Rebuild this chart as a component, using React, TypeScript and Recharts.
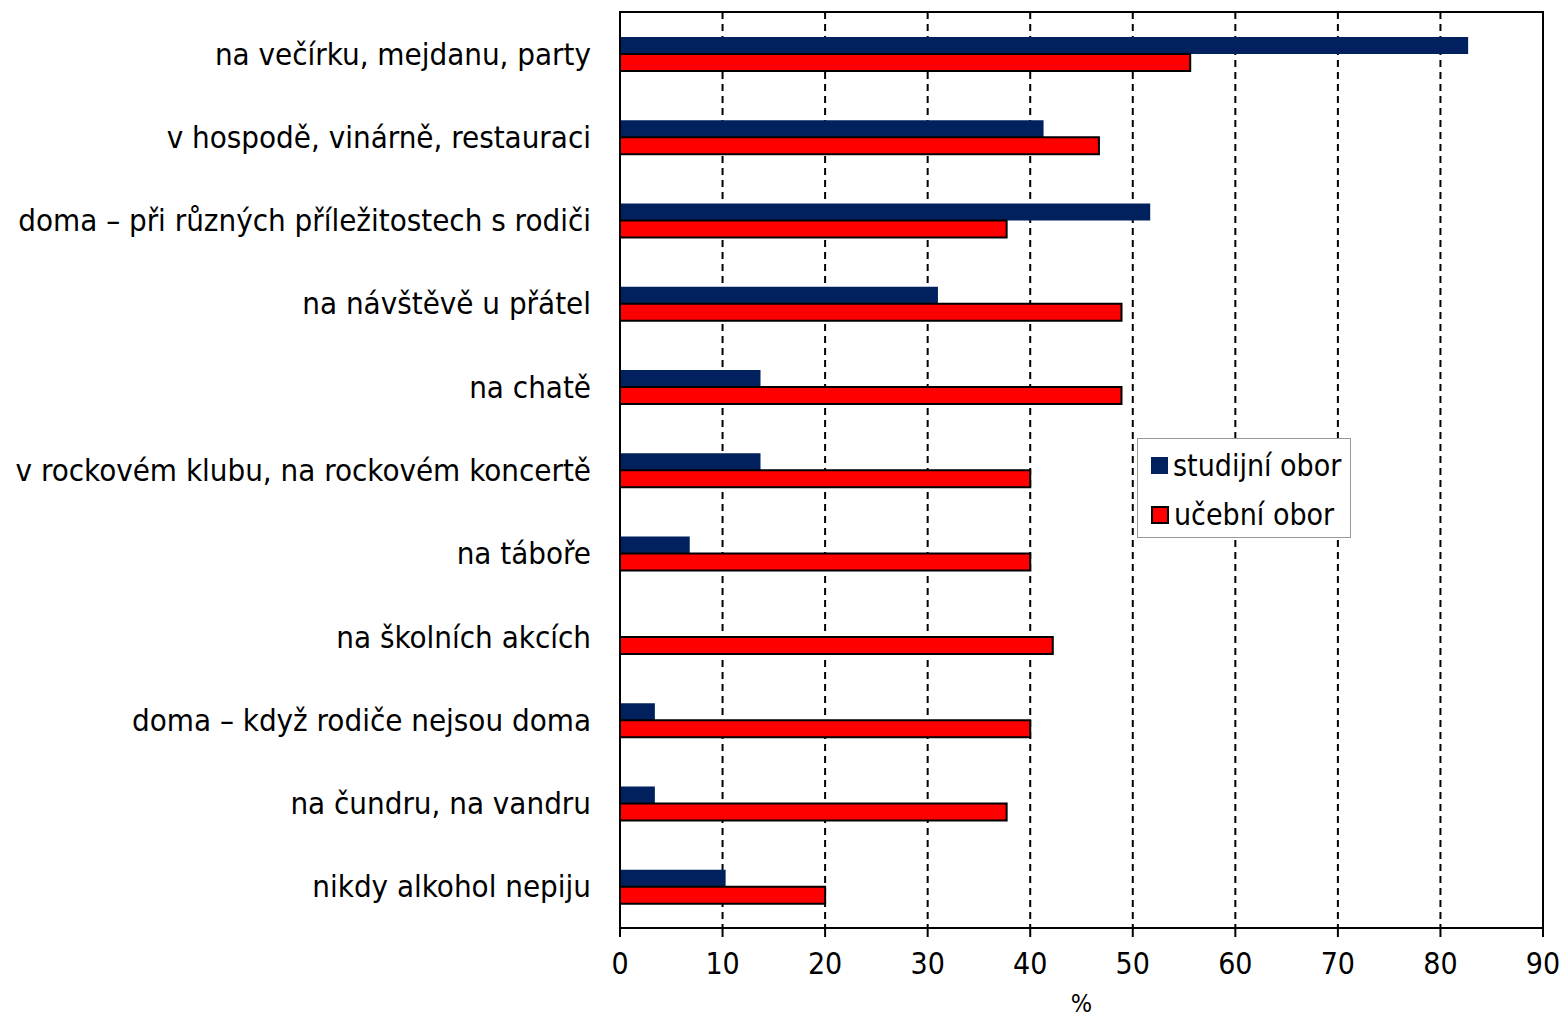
import { BarChart, Bar, XAxis, YAxis, CartesianGrid, ReferenceArea } from 'recharts';

const categories = [
  'na večírku, mejdanu, party',
  'v hospodě, vinárně, restauraci',
  'doma – při různých příležitostech s rodiči',
  'na návštěvě u přátel',
  'na chatě',
  'v rockovém klubu, na rockovém koncertě',
  'na táboře',
  'na školních akcích',
  'doma – když rodiče nejsou doma',
  'na čundru, na vandru',
  'nikdy alkohol nepiju',
];
const studijni = [82.7, 41.3, 51.7, 31.0, 13.7, 13.7, 6.8, 0, 3.4, 3.4, 10.3];
const ucebni = [55.6, 46.7, 37.7, 48.9, 48.9, 40.0, 40.0, 42.2, 40.0, 37.7, 20.0];
const xTicks = [0, 10, 20, 30, 40, 50, 60, 70, 80, 90];

const data = categories.map((name, i) => ({ name, studijni: studijni[i], ucebni: ucebni[i] }));

const FONT = '"DejaVu Sans Condensed", "DejaVu Sans", sans-serif';
const NAVY = '#00215e';
const RED = '#ff0000';

// legend drawn as a plain box on top of the chart, so it takes no room from the plot
function LegendBox() {
  return (
    <div
      style={{
        position: 'absolute',
        left: 1137,
        top: 438,
        border: '1px solid #999',
        background: '#fff',
        width: 214,
        height: 100,
        boxSizing: 'border-box',
        fontFamily: FONT,
        fontSize: 30,
        color: '#000',
        padding: '2px 0 0 13px',
      }}
    >
      <div style={{ display: 'flex', alignItems: 'center', height: 49 }}>
        <span style={{ width: 17, height: 17, background: NAVY, marginRight: 5, display: 'inline-block' }} />
        studijní obor
      </div>
      <div style={{ display: 'flex', alignItems: 'center', height: 49 }}>
        <span style={{ width: 14, height: 14, background: RED, border: '2px solid #000', marginRight: 5, display: 'inline-block' }} />
        učební obor
      </div>
    </div>
  );
}

export default function App() {
  return (
    <div style={{ position: 'absolute', left: 0, top: 0, width: 1561, height: 1021, background: '#fff', overflow: 'hidden' }}>
      <BarChart
        width={1561}
        height={1021}
        data={data}
        layout="vertical"
        margin={{ top: 12, right: 18, bottom: 0, left: 0 }}
        barCategoryGap="30%"
        barGap={0}
      >
        <CartesianGrid horizontal={false} stroke="#000" strokeWidth={2} strokeDasharray="7 5" />
        <XAxis
          type="number"
          domain={[0, 90]}
          ticks={xTicks}
          interval={0}
          height={93}
          stroke="#000"
          strokeWidth={2}
          tickSize={9}
          tickMargin={16}
          tick={{ fill: '#000', fontSize: 30, fontFamily: FONT }}
          label={{ value: '%', position: 'insideBottom', offset: 9, fill: '#000', fontSize: 25, fontFamily: FONT }}
        />
        <YAxis
          type="category"
          dataKey="name"
          width={620}
          stroke="#000"
          strokeWidth={2}
          tickLine={false}
          tickSize={0}
          tickMargin={29}
          interval={0}
          tick={{ fill: '#000', fontSize: 31, fontFamily: FONT }}
        />
        <ReferenceArea x1={0} x2={90} fill="none" stroke="#000" strokeWidth={2} ifOverflow="visible" />
        <Bar dataKey="studijni" name="studijní obor" fill={NAVY} isAnimationActive={false} />
        <Bar dataKey="ucebni" name="učební obor" fill={RED} stroke="#000" strokeWidth={2} isAnimationActive={false} />
      </BarChart>
      <LegendBox />
    </div>
  );
}
